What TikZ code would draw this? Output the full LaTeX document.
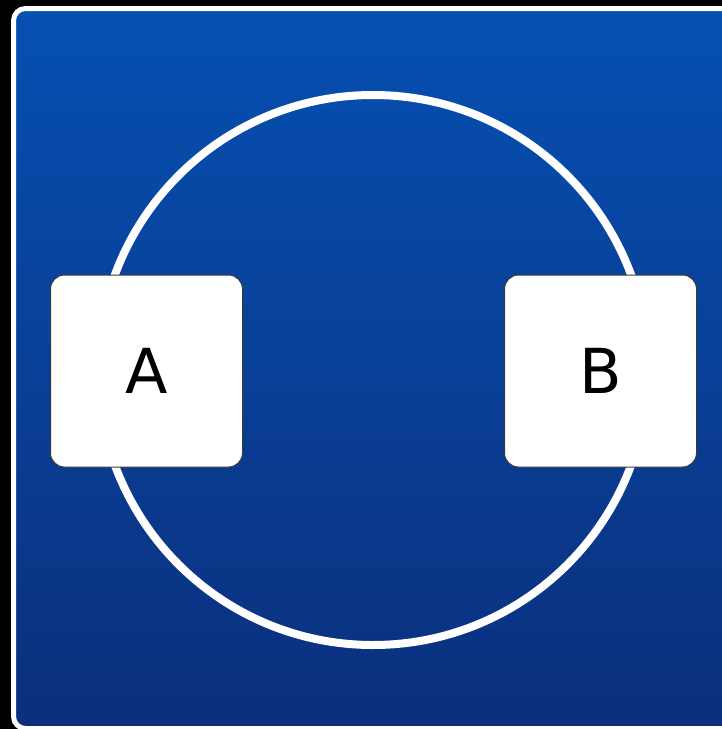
\documentclass[tikz,border=0pt]{standalone}
\usepackage{fontspec}
\setmainfont{DejaVu Sans}
\definecolor{bgtop}{HTML}{0650B2}
\definecolor{bgbottom}{HTML}{0B2F7C}
\definecolor{boxedge}{HTML}{3A3A3A}
\tikzset{
  peer/.style={draw=boxedge, line width=1pt, fill=white, rounded corners=14,
    minimum width=192, minimum height=192, inner sep=0pt,
    font=\fontsize{62}{62}\selectfont, text=black}
}

\begin{document}
\begin{tikzpicture}[x=1pt, y=-1pt]
  % page, 722 x 729 px
  \fill[black] (0,0) rectangle (722,729);
  \useasboundingbox (0,0) rectangle (722,729);
  \begin{scope}
    \clip (0,0) rectangle (722,729);
    % panel with blue gradient
    \shade[top color=bgtop, bottom color=bgbottom, rounded corners=12]
      (13.5,8.5) rectangle (760,728.5);
    \draw[white, line width=5, rounded corners=12]
      (13.5,8.5) rectangle (760,728.5);
  \end{scope}
  % ring through both peers
  \draw[white, line width=8] (373,370) circle (275);
  % peers
  \node[peer] (a) at (146.5,371) {A};
  \node[peer] (b) at (600.5,371) {B};
\end{tikzpicture}
\end{document}
